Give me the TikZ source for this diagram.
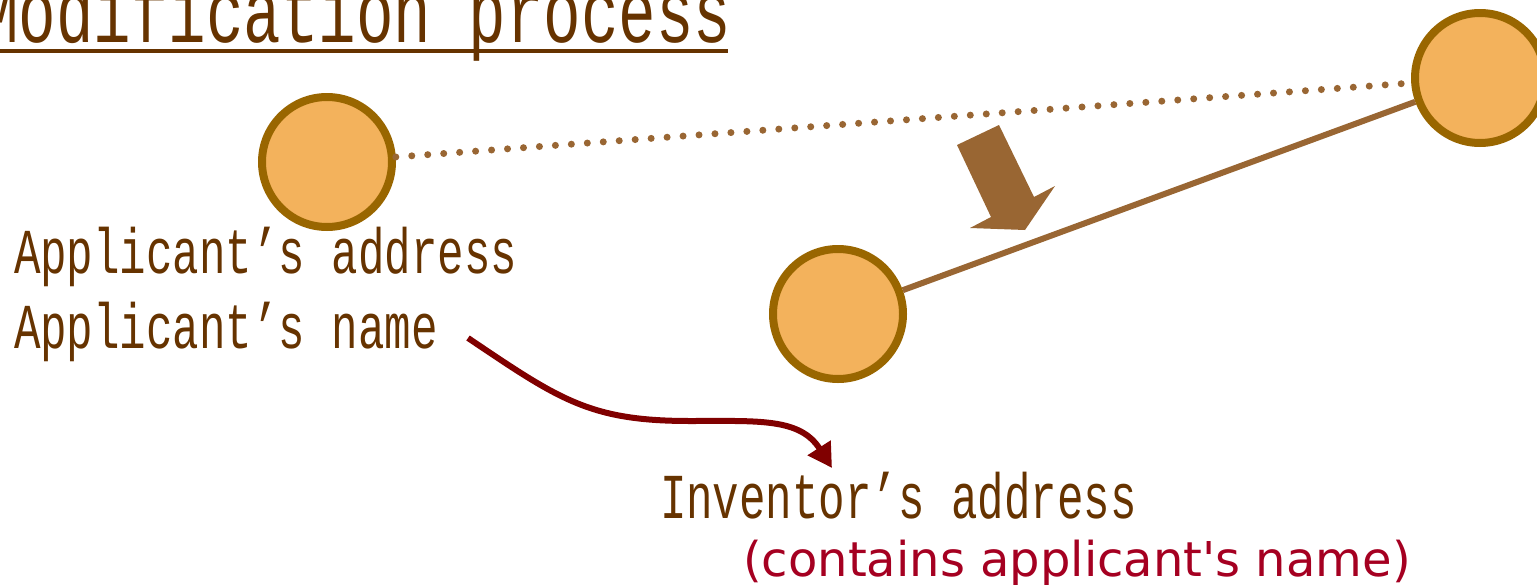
\documentclass[tikz,border=0pt]{standalone}
\usepackage{fontspec}
\usetikzlibrary{arrows.meta}
\newfontfamily\gothic[FakeStretch=0.69]{Liberation Mono}
\newfontfamily\redfont{DejaVu Sans}
\definecolor{txtbrown}{HTML}{663300}
\definecolor{circfill}{HTML}{F3B25C}
\definecolor{circline}{HTML}{996600}
\definecolor{linkbrown}{HTML}{996633}
\definecolor{darkred}{HTML}{800000}
\definecolor{notered}{HTML}{A50021}
\tikzset{
  dot/.style={circle, draw=circline, fill=circfill, line width=8pt, minimum size=130pt, inner sep=0pt},
  label/.style={anchor=base west, inner sep=0pt, outer sep=0pt, text=txtbrown, font=\gothic\fontsize{64}{64}\selectfont},
  link/.style={draw=linkbrown, line width=6pt},
  dotlink/.style={draw=linkbrown, line width=7pt, line cap=round, dash pattern=on 0pt off 16pt},
}
\begin{document}
\begin{tikzpicture}[x=1pt, y=-1pt]
\useasboundingbox (0,0) rectangle (1537,584);
% title
\node[label, font=\gothic\fontsize{90.6}{90.6}\selectfont] (title) at (-19,42) {Modification process};
\draw[txtbrown, line width=4pt] (0,51) -- (728,51);
% circles
\node[dot] (c1) at (327,162) {};
\node[dot] (c2) at (838,314) {};
\node[dot] (c3) at (1480,78) {};
\draw[dotlink] (c1) -- (c3);
\draw[link] (c2) -- (c3);
% block arrow
\fill[linkbrown] (957,145) -- (999,125) -- (1034,197) -- (1055,186) -- (1025,230) -- (970,228) -- (991,217) -- cycle;
% texts
\node[label] (aaddr) at (14,273) {Applicant’s address};
\node[label] (aname) at (14,348) {Applicant’s name};
\node[label] (iaddr) at (660,518) {Inventor’s address};
\node[anchor=base west, inner sep=0pt, text=notered, font=\redfont\fontsize{48}{48}\selectfont] (note) at (743,576) {(contains applicant's name)};
% curved arrow
\coordinate (cs) at (468,338);
\coordinate (ce) at (832,468);
\draw[darkred, line width=6pt, -{Triangle[length=24pt, width=26pt]}]
  (cs) .. controls (560,400) and (590,421) .. (690,421)
  .. controls (760,421) and (800,418) .. (ce);
\end{tikzpicture}
\end{document}
